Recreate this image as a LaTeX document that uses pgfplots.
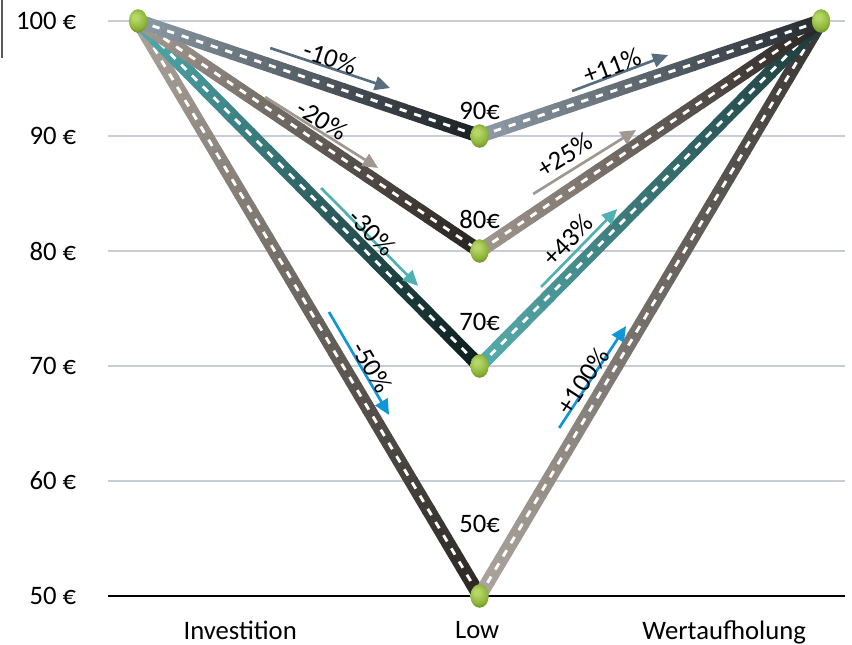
\documentclass[border=0pt]{standalone}
\usepackage{pgfplots}
\pgfplotsset{compat=1.18}
\usepackage{fontspec}
\setmainfont{Carlito}
\usetikzlibrary{arrows.meta,decorations.markings}

% colours
\definecolor{gridc}{RGB}{200,205,213}
\definecolor{arSlate}{RGB}{88,110,126}
\definecolor{arTaupe}{RGB}{160,152,144}
\definecolor{arTeal}{RGB}{80,176,178}
\definecolor{arBlue}{RGB}{16,150,214}
\definecolor{gb1}{RGB}{182,214,104}
\definecolor{gb2}{RGB}{142,182,58}
\definecolor{gb3}{RGB}{96,126,34}

% leg end colours: light start, dark end
\definecolor{a90s}{RGB}{140,154,164}\definecolor{a90e}{RGB}{28,32,35}
\definecolor{b90s}{RGB}{142,155,165}\definecolor{b90e}{RGB}{40,44,49}
\definecolor{a80s}{RGB}{163,154,146}\definecolor{a80e}{RGB}{40,36,33}
\definecolor{b80s}{RGB}{160,151,143}\definecolor{b80e}{RGB}{42,38,35}
\definecolor{a70s}{RGB}{80,170,172}\definecolor{a70e}{RGB}{14,30,30}
\definecolor{b70s}{RGB}{86,172,172}\definecolor{b70e}{RGB}{28,58,58}
\definecolor{a50s}{RGB}{170,162,154}\definecolor{a50e}{RGB}{44,41,38}
\definecolor{b50s}{RGB}{172,164,156}\definecolor{b50e}{RGB}{56,54,52}

% shaded green point
\pgfdeclareradialshading{greenball}{\pgfpoint{-2.5bp}{3.5bp}}{%
  color(0bp)=(gb1); color(2bp)=(gb1); color(7bp)=(gb2); color(11bp)=(gb3); color(14bp)=(gb3)}
\pgfdeclareplotmark{gball}{%
  \pgfscope
  \pgfpathellipse{\pgfpointorigin}{\pgfqpoint{\pgfplotmarksize}{0pt}}%
    {\pgfqpoint{0pt}{1.28\pgfplotmarksize}}%
  \pgfusepath{clip}%
  \pgflowlevelsynccm
  \pgfuseshading{greenball}%
  \endpgfscope}

% a thick leg whose colour runs from #1 to #2 along its length
\tikzset{
  gradleg/.style 2 args={
    postaction={decorate, decoration={markings,
      mark=between positions 0 and 0.999 step 0.025 with {
        \pgfmathsetmacro\gpct{min(100,(\pgfkeysvalueof{/pgf/decoration/mark info/sequence number}-1)*100/39)}%
        \pgfmathsetlengthmacro\gseg{\pgfdecoratedpathlength/40+0.6pt}%
        \colorlet{gcur}{#2!\gpct!#1}%
        \fill[gcur] (0pt,-5.25pt) rectangle (\gseg,5.25pt);
      }}}},
  road/.style={draw=white, line width=2.1pt, dash pattern=on 5.5pt off 6pt, line cap=butt},
  chg/.style={line width=2pt, -{Triangle[length=11.5pt,width=10.5pt]}},
}

\begin{document}
\fontsize{20}{24}\selectfont
\begin{tikzpicture}[x=0.75pt,y=0.75pt]
\begin{axis}[
  name=ax,
  at={(0,0)}, anchor=south west,
  scale only axis,
  width=552.75pt, height=431.25pt,
  xmin=-0.088, xmax=2.07,
  ymin=50, ymax=100,
  separate axis lines,
  axis x line=bottom, axis y line=left,
  x axis line style={black, line width=1.9pt, -},
  y axis line style={draw=none},
  xtick={0.299,0.993,1.716},
  xticklabels={Investition, Low, Wertaufholung},
  ytick={50,60,70,80,90,100},
  yticklabels={50 €,60 €,70 €,80 €,90 €,100 €},
  major tick length=0pt,
  ymajorgrids,
  grid style={gridc, line width=1.1pt},
  tick label style={font=\fontsize{20}{24}\selectfont},
  yticklabel style={xshift=-17pt},
  xticklabel style={yshift=-12pt},
  clip=false,
]

% 50 -> 100
\addplot[draw=none, gradleg={a50s}{a50e}] coordinates {(0,100) (1,50)};
\addplot[road] coordinates {(0,100) (1,50)};
\addplot[draw=none, gradleg={b50s}{b50e}] coordinates {(1,50) (2,100)};
\addplot[road] coordinates {(1,50) (2,100)};

% 70 -> 100
\addplot[draw=none, gradleg={a70s}{a70e}] coordinates {(0,100) (1,70)};
\addplot[road] coordinates {(0,100) (1,70)};
\addplot[draw=none, gradleg={b70s}{b70e}] coordinates {(1,70) (2,100)};
\addplot[road] coordinates {(1,70) (2,100)};

% 80 -> 100
\addplot[draw=none, gradleg={a80s}{a80e}] coordinates {(0,100) (1,80)};
\addplot[road] coordinates {(0,100) (1,80)};
\addplot[draw=none, gradleg={b80s}{b80e}] coordinates {(1,80) (2,100)};
\addplot[road] coordinates {(1,80) (2,100)};

% 90 -> 100
\addplot[draw=none, gradleg={a90s}{a90e}] coordinates {(0,100) (1,90)};
\addplot[road] coordinates {(0,100) (1,90)};
\addplot[draw=none, gradleg={b90s}{b90e}] coordinates {(1,90) (2,100)};
\addplot[road] coordinates {(1,90) (2,100)};

% points
\addplot[only marks, mark=gball, mark size=6.9pt]
  coordinates {(0,100) (1,90) (1,80) (1,70) (1,50) (2,100)};

% values at the low
\node at (axis cs:1,92.17) {90€};
\node at (axis cs:1,82.70) {80€};
\node at (axis cs:1,73.83) {70€};
\node at (axis cs:1,56.26) {50€};

% change arrows
\draw[arSlate, chg] (axis cs:0.387,97.65) -- (axis cs:0.738,94.17);
\node[rotate=-18.4] at (axis cs:0.562,96.78) {-10\%};
\draw[arTaupe, chg] (axis cs:0.372,93.39) -- (axis cs:0.703,87.22);
\node[rotate=-32] at (axis cs:0.539,91.39) {-20\%};
\draw[arTeal, chg] (axis cs:0.536,85.48) -- (axis cs:0.820,76.96);
\node[rotate=-45] at (axis cs:0.685,81.65) {-30\%};
\draw[arBlue, chg] (axis cs:0.559,74.70) -- (axis cs:0.735,65.74);
\node[rotate=-60] at (axis cs:0.685,69.91) {-50\%};

\draw[arSlate, chg] (axis cs:1.271,93.91) -- (axis cs:1.552,97.04);
\node[rotate=20.6] at (axis cs:1.388,96.09) {+11\%};
\draw[arTaupe, chg] (axis cs:1.157,84.96) -- (axis cs:1.458,90.52);
\node[rotate=32] at (axis cs:1.250,88.35) {+25\%};
\draw[arTeal, chg] (axis cs:1.180,76.87) -- (axis cs:1.403,83.65);
\node[rotate=46] at (axis cs:1.259,80.96) {+43\%};
\draw[arBlue, chg] (axis cs:1.233,64.61) -- (axis cs:1.429,73.48);
\node[rotate=57] at (axis cs:1.303,68.70) {+100\%};
\end{axis}
% frame edge at the top left
\draw[gray!70!black, line width=0.8pt] (-106,596) -- (-106,538);
\pgfresetboundingbox
\useasboundingbox (-108,-49) rectangle (744,596);
\end{tikzpicture}
\end{document}
